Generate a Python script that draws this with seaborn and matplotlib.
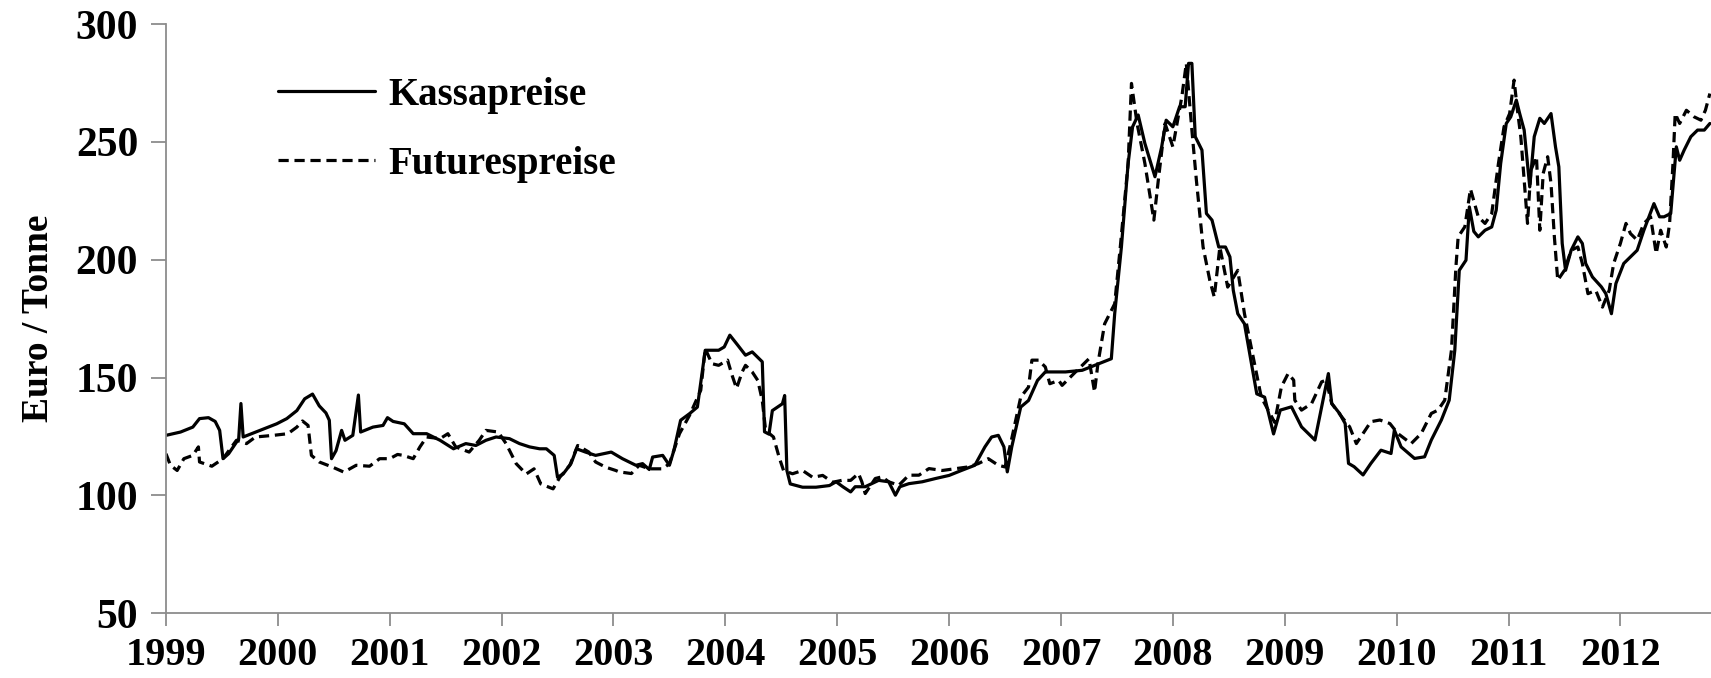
import numpy as np
import pandas as pd
import matplotlib
matplotlib.use("Agg")
import matplotlib.pyplot as plt
import seaborn as sns
from matplotlib.lines import Line2D

# ---------------- data ----------------
kassa_t = [1999.00, 1999.13, 1999.24, 1999.30, 1999.38, 1999.44, 1999.48, 1999.51, 1999.56, 1999.65,
           1999.67, 1999.69, 1999.84, 1999.99, 2000.08, 2000.17, 2000.24, 2000.31, 2000.37, 2000.43,
           2000.46, 2000.48, 2000.52, 2000.57, 2000.60, 2000.67, 2000.72, 2000.74, 2000.85, 2000.94,
           2000.98, 2001.03, 2001.13, 2001.21, 2001.33, 2001.39, 2001.45, 2001.57, 2001.68, 2001.77,
           2001.86, 2001.95, 2002.07, 2002.16, 2002.25, 2002.34, 2002.40, 2002.47, 2002.50, 2002.55,
           2002.62, 2002.67, 2002.75, 2002.84, 2002.98, 2003.08, 2003.20, 2003.26, 2003.32, 2003.35,
           2003.44, 2003.50, 2003.54, 2003.60, 2003.68, 2003.75, 2003.82, 2003.94, 2003.99, 2004.04,
           2004.11, 2004.18, 2004.24, 2004.33, 2004.35, 2004.39, 2004.42, 2004.51, 2004.53, 2004.55,
           2004.58, 2004.69, 2004.81, 2004.93, 2004.99, 2005.05, 2005.12, 2005.16, 2005.25, 2005.37,
           2005.46, 2005.52, 2005.56, 2005.64, 2005.76, 2005.88, 2006.00, 2006.11, 2006.23, 2006.32,
           2006.38, 2006.44, 2006.49, 2006.52, 2006.56, 2006.64, 2006.71, 2006.79, 2006.86, 2006.98,
           2007.04, 2007.19, 2007.34, 2007.45, 2007.48, 2007.54, 2007.60, 2007.64, 2007.69, 2007.75,
           2007.84, 2007.90, 2007.94, 2008.00, 2008.06, 2008.11, 2008.14, 2008.17, 2008.20, 2008.26,
           2008.30, 2008.35, 2008.41, 2008.47, 2008.51, 2008.54, 2008.58, 2008.64, 2008.75, 2008.82,
           2008.90, 2008.96, 2009.06, 2009.15, 2009.27, 2009.33, 2009.39, 2009.42, 2009.49, 2009.54,
           2009.57, 2009.62, 2009.70, 2009.77, 2009.86, 2009.95, 2009.98, 2010.04, 2010.16, 2010.25,
           2010.31, 2010.40, 2010.47, 2010.52, 2010.56, 2010.62, 2010.65, 2010.69, 2010.73, 2010.79,
           2010.85, 2010.89, 2010.93, 2010.98, 2011.02, 2011.07, 2011.10, 2011.14, 2011.19, 2011.23,
           2011.28, 2011.32, 2011.38, 2011.42, 2011.45, 2011.48, 2011.51, 2011.56, 2011.62, 2011.66,
           2011.69, 2011.75, 2011.83, 2011.87, 2011.92, 2011.96, 2012.03, 2012.09, 2012.15, 2012.21,
           2012.30, 2012.35, 2012.39, 2012.45, 2012.50, 2012.53, 2012.57, 2012.63, 2012.69, 2012.75,
           2012.80]
kassa_v = [125.5, 126.9, 129.0, 132.6, 133.0, 131.4, 127.6, 115.6, 117.7, 124.0,
           139.0, 124.8, 127.6, 130.4, 132.6, 136.0, 141.0, 143.0, 138.0, 135.0,
           131.9, 115.6, 119.0, 127.6, 123.4, 125.5, 142.6, 126.9, 129.0, 129.7,
           133.0, 131.4, 130.4, 126.2, 126.2, 124.8, 123.4, 119.8, 122.0, 121.2,
           123.4, 124.8, 124.1, 122.0, 120.6, 119.8, 119.8, 117.0, 107.7, 109.1,
           113.5, 119.8, 118.4, 117.0, 118.4, 115.6, 112.8, 113.5, 111.0, 116.3,
           117.0, 112.8, 119.1, 131.9, 134.7, 137.5, 161.6, 161.6, 163.0, 168.0,
           163.8, 159.5, 160.9, 156.7, 127.0, 126.0, 136.0, 138.9, 142.4, 110.6,
           104.9, 103.5, 103.5, 104.2, 105.8, 103.7, 101.5, 103.7, 103.7, 106.4,
           105.8, 100.1, 103.7, 105.0, 105.8, 107.2, 108.5, 110.6, 112.8, 120.6,
           124.8, 125.5, 120.6, 110.0, 120.6, 137.5, 140.3, 148.8, 152.4, 152.4,
           152.4, 153.1, 155.9, 158.0, 177.1, 205.4, 240.8, 256.4, 261.4, 249.3,
           235.2, 247.9, 259.2, 256.4, 264.9, 264.9, 283.3, 283.3, 252.2, 246.5,
           219.6, 216.8, 205.4, 205.4, 201.2, 187.0, 177.1, 172.8, 143.1, 141.7,
           126.1, 136.2, 137.6, 129.1, 123.5, 137.6, 151.7, 139.0, 134.8, 130.5,
           113.6, 112.2, 108.7, 113.6, 119.2, 117.8, 127.7, 120.6, 115.7, 116.4,
           123.5, 132.0, 140.4, 161.6, 195.5, 199.8, 222.4, 212.0, 209.7, 212.5,
           213.9, 221.0, 240.8, 257.8, 260.6, 267.7, 262.0, 255.0, 230.9, 252.2,
           260.0, 257.8, 262.0, 247.9, 239.4, 206.9, 195.5, 204.0, 209.7, 206.9,
           198.4, 192.7, 188.5, 185.6, 177.1, 189.9, 198.4, 201.2, 204.0, 212.5,
           223.8, 218.2, 218.2, 219.6, 247.9, 242.2, 246.5, 252.2, 255.0, 255.0,
           257.8]

futures_t = [1999.00, 1999.04, 1999.10, 1999.16, 1999.24, 1999.29, 1999.30, 1999.41, 1999.51, 1999.63,
             1999.72, 1999.80, 1999.96, 2000.09, 2000.17, 2000.22, 2000.27, 2000.30, 2000.37, 2000.49,
             2000.59, 2000.70, 2000.82, 2000.91, 2001.00, 2001.07, 2001.12, 2001.21, 2001.27, 2001.33,
             2001.45, 2001.52, 2001.59, 2001.71, 2001.80, 2001.86, 2001.97, 2002.04, 2002.13, 2002.22,
             2002.29, 2002.35, 2002.46, 2002.52, 2002.61, 2002.68, 2002.78, 2002.84, 2002.93, 2003.02,
             2003.05, 2003.16, 2003.23, 2003.32, 2003.44, 2003.50, 2003.59, 2003.68, 2003.78, 2003.82,
             2003.88, 2003.94, 2004.02, 2004.06, 2004.10, 2004.15, 2004.18, 2004.24, 2004.29, 2004.33,
             2004.36, 2004.43, 2004.48, 2004.52, 2004.60, 2004.69, 2004.78, 2004.87, 2004.96, 2005.04,
             2005.12, 2005.19, 2005.22, 2005.25, 2005.34, 2005.40, 2005.46, 2005.55, 2005.64, 2005.73,
             2005.82, 2005.94, 2006.06, 2006.17, 2006.26, 2006.35, 2006.44, 2006.50, 2006.55, 2006.64,
             2006.71, 2006.74, 2006.80, 2006.86, 2006.90, 2006.98, 2007.01, 2007.13, 2007.25, 2007.30,
             2007.33, 2007.39, 2007.48, 2007.53, 2007.60, 2007.63, 2007.68, 2007.75, 2007.83, 2007.87,
             2007.93, 2008.00, 2008.08, 2008.12, 2008.17, 2008.21, 2008.27, 2008.33, 2008.37, 2008.42,
             2008.49, 2008.58, 2008.64, 2008.70, 2008.79, 2008.91, 2008.97, 2009.03, 2009.08, 2009.09,
             2009.15, 2009.24, 2009.33, 2009.37, 2009.42, 2009.51, 2009.58, 2009.64, 2009.70, 2009.77,
             2009.85, 2009.94, 2010.01, 2010.13, 2010.22, 2010.31, 2010.37, 2010.43, 2010.49, 2010.53,
             2010.55, 2010.61, 2010.66, 2010.73, 2010.79, 2010.85, 2010.91, 2010.96, 2011.01, 2011.05,
             2011.08, 2011.11, 2011.14, 2011.17, 2011.20, 2011.25, 2011.28, 2011.31, 2011.35, 2011.38,
             2011.41, 2011.44, 2011.50, 2011.56, 2011.62, 2011.66, 2011.71, 2011.78, 2011.84, 2011.90,
             2011.94, 2012.00, 2012.05, 2012.09, 2012.15, 2012.21, 2012.27, 2012.32, 2012.36, 2012.41,
             2012.44, 2012.47, 2012.49, 2012.53, 2012.59, 2012.66, 2012.72, 2012.76, 2012.80]
futures_v = [117.7, 112.8, 110.6, 115.6, 117.0, 120.6, 114.2, 112.4, 115.6, 123.4,
             122.0, 124.8, 125.5, 126.2, 129.0, 131.6, 129.7, 117.0, 114.2, 112.0,
             109.9, 112.8, 112.4, 115.6, 115.6, 117.4, 117.0, 115.6, 120.6, 124.8,
             124.1, 126.2, 120.6, 118.4, 123.4, 127.6, 126.9, 122.0, 113.5, 109.1,
             111.3, 104.9, 102.8, 107.7, 112.8, 121.2, 118.4, 114.2, 112.0, 110.6,
             110.0, 109.3, 112.8, 111.3, 111.3, 113.5, 126.2, 134.0, 144.6, 162.3,
             155.9, 155.2, 157.4, 151.0, 145.4, 152.4, 155.2, 152.4, 148.8, 140.3,
             127.6, 124.8, 116.3, 110.6, 109.2, 110.6, 107.7, 108.5, 105.6, 106.4,
             106.4, 109.3, 105.8, 100.8, 107.2, 107.9, 105.8, 104.3, 108.6, 108.6,
             111.4, 110.6, 111.4, 112.1, 113.5, 115.6, 112.8, 112.1, 122.0, 141.7,
             146.0, 157.4, 157.4, 154.5, 147.4, 148.8, 146.7, 152.4, 158.0, 143.9,
             155.9, 172.8, 181.3, 205.4, 240.8, 274.8, 257.8, 240.8, 216.8, 233.8,
             257.8, 247.9, 269.1, 283.3, 255.0, 233.8, 205.4, 191.3, 184.2, 205.4,
             188.4, 195.5, 177.1, 163.0, 141.7, 131.0, 146.1, 151.7, 148.9, 140.4,
             136.2, 139.0, 148.2, 148.9, 139.0, 133.3, 129.1, 122.0, 126.3, 131.3,
             132.0, 130.5, 126.3, 122.0, 126.3, 134.8, 136.2, 140.4, 161.6, 197.0,
             209.7, 214.0, 230.0, 218.2, 215.4, 219.6, 240.8, 256.4, 262.0, 276.2,
             263.4, 252.2, 233.8, 215.4, 238.0, 243.7, 212.5, 236.6, 243.7, 232.3,
             209.7, 191.3, 195.5, 204.0, 205.4, 198.4, 185.6, 187.0, 179.9, 187.0,
             198.4, 206.9, 215.4, 211.1, 208.3, 215.4, 218.2, 202.6, 212.5, 205.4,
             215.4, 240.8, 262.0, 257.8, 263.4, 260.6, 259.2, 263.4, 270.5]

series_names = ["Kassapreise", "Futurespreise"]
y_ticks = [50, 100, 150, 200, 250, 300]
x_ticks = list(range(1999, 2013))
y_label = "Euro / Tonne"

# ---------------- plotting ----------------
sns.set_style("white")
plt.rcParams["font.family"] = ["Liberation Serif", "DejaVu Serif"]
plt.rcParams["font.weight"] = "bold"
plt.rcParams["text.color"] = "black"
plt.rcParams["axes.labelcolor"] = "black"
plt.rcParams["xtick.labelcolor"] = "black"
plt.rcParams["ytick.labelcolor"] = "black"

df = pd.concat([
    pd.DataFrame({"Jahr": kassa_t, "Preis": kassa_v, "Serie": series_names[0]}),
    pd.DataFrame({"Jahr": futures_t, "Preis": futures_v, "Serie": series_names[1]}),
])

fig = plt.figure(figsize=(17.11, 6.78), dpi=100)
ax = fig.add_axes([0.097, 0.0954, 0.903, 0.8692])

sns.lineplot(data=df, x="Jahr", y="Preis", hue="Serie", style="Serie",
             palette={series_names[0]: "black", series_names[1]: "black"},
             dashes={series_names[0]: "", series_names[1]: (3.2, 1.8)},
             linewidth=2.3, estimator=None, sort=False, legend=False, ax=ax)

ax.set_xlim(1999, 2012.81)
ax.set_ylim(50, 300)
ax.set_xticks(x_ticks)
ax.set_xticklabels([str(t) for t in x_ticks])
ax.set_yticks(y_ticks)
ax.set_xlabel("")
ax.set_ylabel(y_label, fontsize=27, fontweight="bold", labelpad=14, color="black")

for s in ["top", "right"]:
    ax.spines[s].set_visible(False)
for s in ["left", "bottom"]:
    ax.spines[s].set_color("#8c8c8c")
    ax.spines[s].set_linewidth(1.3)

ax.tick_params(axis="y", direction="out", length=11, width=1.3, color="#8c8c8c",
               labelsize=30, pad=9, left=True, labelcolor="black")
ax.tick_params(axis="x", direction="out", length=9, width=1.3, color="#8c8c8c",
               labelsize=29, pad=8, bottom=True, labelcolor="black")
for lab in ax.get_xticklabels() + ax.get_yticklabels():
    lab.set_fontweight("bold")

handles = [Line2D([], [], color="black", lw=2.3),
           Line2D([], [], color="black", lw=2.3, dashes=(3.2, 1.8))]
leg = fig.legend(handles, series_names, loc="upper left",
                 bbox_to_anchor=(0.1625, 0.887), bbox_transform=fig.transFigure,
                 frameon=False, borderpad=0, borderaxespad=0,
                 handlelength=2.5, handletextpad=0.35, labelspacing=0.83,
                 prop={"family": "Liberation Serif", "weight": "bold", "size": 28})
for t in leg.get_texts():
    t.set_color("black")

fig.savefig("out.png", dpi=100)
